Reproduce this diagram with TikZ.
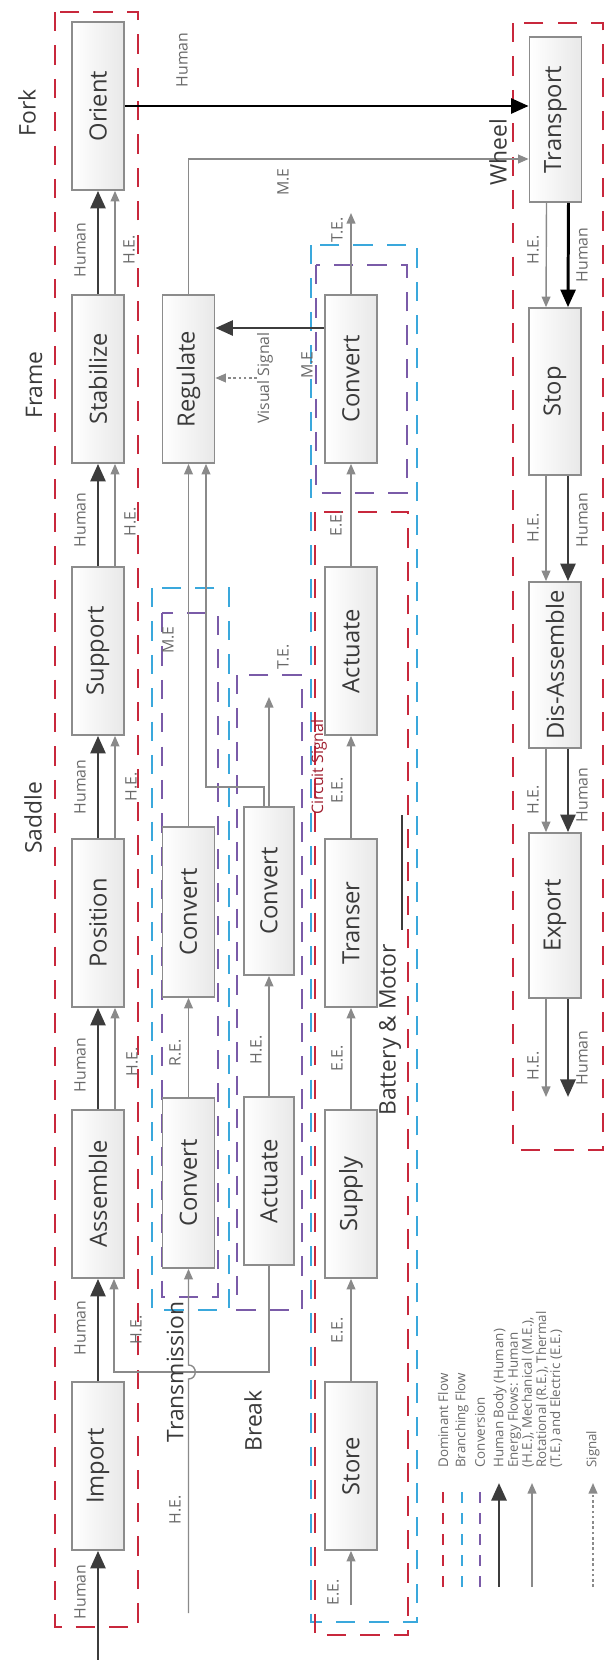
\documentclass[tikz,border=0pt]{standalone}
\usepackage{fontspec}
\usepackage{graphicx}
\usepackage{tikz}
\usetikzlibrary{arrows.meta,calc}
\setmainfont{Open Sans}
\definecolor{zonered}{HTML}{C8283C}
\definecolor{zoneblue}{HTML}{3AA8DC}
\definecolor{zonepurple}{HTML}{7A5BA8}
\definecolor{flowdark}{HTML}{3C3C3C}
\definecolor{flowgray}{HTML}{8A8A8A}
\definecolor{boxline}{HTML}{8C8C8C}
\definecolor{textdark}{HTML}{3A3A3A}
\definecolor{textgray}{HTML}{6A6A6A}
\newcommand{\up}[1]{\rotatebox{90}{#1}}
\tikzset{
  fnbox/.style={draw=boxline,line width=1pt,left color=white,right color=black!9,
    minimum width=1.04cm,minimum height=3.36cm,inner sep=0pt,text=textdark,
    font=\fontsize{13.5}{16}\selectfont},
  flowlbl/.style={rotate=90,inner sep=0pt,text=textgray,font=\fontsize{9}{10}\selectfont},
  grouplbl/.style={rotate=90,inner sep=0pt,text=textdark,font=\fontsize{13}{15}\selectfont},
  legendlbl/.style={rotate=90,anchor=west,inner sep=0pt,align=left,text=textgray,
    font=\fontsize{7.6}{8}\selectfont},
  humanflow/.style={draw=flowdark,line width=1.7pt,-{Triangle[length=10pt,width=8.5pt]}},
  energyflow/.style={draw=flowgray,line width=0.8pt,-{Triangle[length=6pt,width=5pt]}},
  signalflow/.style={draw=flowgray,line width=0.8pt,dash pattern=on 1.5pt off 1.5pt,
    -{Triangle[length=6pt,width=5pt]}},
  domzone/.style={draw=zonered,line width=1.5pt,dash pattern=on 11pt off 8pt},
  branchzone/.style={draw=zoneblue,line width=1.5pt,dash pattern=on 11pt off 8pt},
  convzone/.style={draw=zonepurple,line width=1.5pt,dash pattern=on 11pt off 8pt}
}

\begin{document}
\begin{tikzpicture}[x=0.02cm,y=-0.02cm]
  \useasboundingbox (0,0) rectangle (607,1660);
  % dashed zones
  \draw[domzone] (55,12) rectangle (138,1627);
  \draw[branchzone] (152,588) rectangle (229,1310);
  \draw[convzone] (162,613) rectangle (218,1297);
  \draw[convzone] (237,675) rectangle (302,1310);
  \draw[branchzone] (311,245) rectangle (417,1622);
  \draw[domzone] (315,512) rectangle (408,1635);
  \draw[convzone] (316,265) rectangle (407,493);
  \draw[domzone] (513,23) rectangle (603,1150);
  \draw[flowdark,line width=1pt] (402,815) -- (402,930);

  % function boxes
  \node[fnbox] (Orient) at (98,106) {\up{Orient}};
  \node[fnbox] (Stabilize) at (98,379) {\up{Stabilize}};
  \node[fnbox] (Support) at (98,651) {\up{Support}};
  \node[fnbox] (Position) at (98,923) {\up{Position}};
  \node[fnbox] (Assemble) at (98,1194) {\up{Assemble}};
  \node[fnbox] (Import) at (98,1466) {\up{Import}};
  \node[fnbox] (Regulate) at (188.5,379) {\up{Regulate}};
  \node[fnbox,minimum height=3.4cm] (TConvOut) at (188.5,912) {\up{Convert}};
  \node[fnbox,minimum height=3.4cm] (TConvIn) at (188.5,1183) {\up{Convert}};
  \node[fnbox,minimum width=1cm] (BConv) at (269,891) {\up{Convert}};
  \node[fnbox,minimum width=1cm] (BAct) at (269,1181) {\up{Actuate}};
  \node[fnbox] (MConv) at (351,379) {\up{Convert}};
  \node[fnbox] (MAct) at (351,651) {\up{Actuate}};
  \node[fnbox] (Transer) at (351,923) {\up{Transer}};
  \node[fnbox] (Supply) at (351,1194) {\up{Supply}};
  \node[fnbox] (Store) at (351,1466) {\up{Store}};
  \node[fnbox,minimum height=3.3cm] (Transport) at (555.5,119.5) {\up{Transport}};
  \node[fnbox,minimum height=3.34cm] (Stop) at (555,391.5) {\up{Stop}};
  \node[fnbox,minimum height=3.32cm] (DisAssemble) at (555,665) {\up{Dis-Assemble}};
  \node[fnbox,minimum height=3.3cm] (Export) at (555,915.5) {\up{Export}};

  % helper points
  \coordinate (humanIn) at (98,1660);
  \coordinate (heIn) at (188.5,1613);
  \coordinate (hopLow) at (188.5,1379);
  \coordinate (hopHigh) at (188.5,1365);
  \coordinate (heBus) at (0,1372);
  \coordinate (meBend) at (206,787);
  \coordinate (teBreak) at (269,697);
  \coordinate (eeIn) at (351,1605);
  \coordinate (teMotor) at (351,213);
  \coordinate (meMotor) at (0,328);
  \coordinate (visSig) at (257,378);
  \coordinate (meWheel) at (0,159);
  \coordinate (wheelOut) at (0,1097);

  % saddle, frame, fork
  \draw[humanflow] (humanIn) -- (Import.south);
  \draw[humanflow] (Import.north) -- (Assemble.south);
  \draw[humanflow] (Assemble.north) -- (Position.south);
  \draw[humanflow] (Position.north) -- (Support.south);
  \draw[humanflow] (Support.north) -- (Stabilize.south);
  \draw[humanflow] (Stabilize.north) -- (Orient.south);
  \draw[energyflow] ([xshift=.34cm]Assemble.north) -- ([xshift=.34cm]Position.south);
  \draw[energyflow] ([xshift=.34cm]Position.north) -- ([xshift=.34cm]Support.south);
  \draw[energyflow] ([xshift=.34cm]Support.north) -- ([xshift=.34cm]Stabilize.south);
  \draw[energyflow] ([xshift=.34cm]Stabilize.north) -- ([xshift=.34cm]Orient.south);
  \draw[humanflow,draw=black] (Orient.east) -- (Orient.east -| Transport.west);

  % transmission and break
  \draw[energyflow] (BAct.south) -- (BAct.south |- heBus) -| ([xshift=.32cm]Assemble.south);
  \draw[energyflow] (heIn) -- (hopLow)
    .. controls ($(hopLow)+(9,0)$) and ($(hopHigh)+(9,0)$) .. (hopHigh) -- (TConvIn.south);
  \draw[energyflow] (TConvIn.north) -- (TConvOut.south);
  \draw[energyflow] (TConvOut.north) -- (TConvOut.north |- Regulate.south);
  \draw[energyflow] ([xshift=-.1cm]BConv.north) |- (meBend) -- (meBend |- Regulate.south);
  \draw[energyflow] (BAct.north) -- (BConv.south);
  \draw[energyflow] (BConv.north) -- (teBreak);
  \draw[energyflow] (Regulate.north) |- (Transport.west |- meWheel);

  % battery and motor
  \draw[energyflow] (eeIn) -- (Store.south);
  \draw[energyflow] (Store.north) -- (Supply.south);
  \draw[energyflow] (Supply.north) -- (Transer.south);
  \draw[energyflow] (Transer.north) -- (MAct.south);
  \draw[energyflow] (MAct.north) -- (MConv.south);
  \draw[energyflow] (MConv.north) -- (teMotor);
  \draw[humanflow] (MConv.west |- meMotor) -- (Regulate.east |- meMotor);
  \draw[signalflow] (visSig) -- (Regulate.east |- visSig);

  % wheel
  \draw[energyflow] ([xshift=-.18cm]Transport.south) -- ([xshift=-.18cm]Stop.north);
  \draw[energyflow] ([xshift=-.18cm]Stop.south) -- ([xshift=-.18cm]DisAssemble.north);
  \draw[energyflow] ([xshift=-.18cm]DisAssemble.south) -- ([xshift=-.18cm]Export.north);
  \draw[energyflow] ([xshift=-.18cm]Export.south) -- ([xshift=-.18cm]Export.south |- wheelOut);
  \draw[humanflow,draw=black] ([xshift=.26cm]Transport.south) -- ([xshift=.26cm]Stop.north);
  \draw[humanflow] ([xshift=.26cm]Stop.south) -- ([xshift=.26cm]DisAssemble.north);
  \draw[humanflow] ([xshift=.26cm]DisAssemble.south) -- ([xshift=.26cm]Export.north);
  \draw[humanflow] ([xshift=.26cm]Export.south) -- ([xshift=.26cm]Export.south |- wheelOut);

  % flow labels
  \node[flowlbl] at (80,250) {Human};  \node[flowlbl] at (129,250) {H.E.};
  \node[flowlbl] at (80,520) {Human};  \node[flowlbl] at (130,522) {H.E.};
  \node[flowlbl] at (80,787) {Human};  \node[flowlbl] at (131,787) {H.E.};
  \node[flowlbl] at (80,1065) {Human}; \node[flowlbl] at (132,1062) {H.E.};
  \node[flowlbl] at (80,1328) {Human}; \node[flowlbl] at (136,1330) {H.E.};
  \node[flowlbl] at (80,1592) {Human};
  \node[flowlbl] at (182,60) {Human};
  \node[flowlbl] at (283,182) {M.E};
  \node[flowlbl] at (168,640) {M.E};
  \node[flowlbl] at (175,1053) {R.E.};
  \node[flowlbl] at (175,1510) {H.E.};
  \node[flowlbl] at (256,1050) {H.E.};
  \node[flowlbl] at (283,657) {T.E.};
  \node[flowlbl] at (265,378) {Visual Signal};
  \node[flowlbl] at (307,365) {M.E};
  \node[flowlbl] at (337,230) {T.E.};
  \node[flowlbl] at (336,523) {E.E.};
  \node[flowlbl] at (337,790) {E.E.};
  \node[flowlbl,text=zonered!80!black] at (319,767) {Circuit Signal};
  \node[flowlbl] at (337,1058) {E.E.};
  \node[flowlbl] at (337,1330) {E.E.};
  \node[flowlbl] at (333,1592) {E.E.};
  \node[flowlbl] at (533,250) {H.E.};  \node[flowlbl] at (582,255) {Human};
  \node[flowlbl] at (533,528) {H.E.};  \node[flowlbl] at (582,520) {Human};
  \node[flowlbl] at (533,800) {H.E.};  \node[flowlbl] at (582,795) {Human};
  \node[flowlbl] at (533,1066) {H.E.}; \node[flowlbl] at (582,1058) {Human};

  % component names
  \node[grouplbl] at (27,113) {Fork};
  \node[grouplbl] at (34,385) {Frame};
  \node[grouplbl] at (33,818) {Saddle};
  \node[grouplbl] at (175,1372) {Transmission};
  \node[grouplbl] at (253,1421) {Break};
  \node[grouplbl] at (390,1030) {Battery \& Motor};
  \node[grouplbl] at (498,152) {Wheel};

  % legend
  \draw[domzone,line width=1.2pt,dash pattern=on 6pt off 6pt] (443,1587) -- (443,1485);
  \draw[branchzone,line width=1.2pt,dash pattern=on 6pt off 6pt] (462,1587) -- (462,1485);
  \draw[convzone,line width=1.2pt,dash pattern=on 6pt off 6pt] (480,1587) -- (480,1485);
  \draw[humanflow] (499,1587) -- (499,1483);
  \draw[energyflow] (532,1587) -- (532,1483);
  \draw[signalflow] (593,1587) -- (593,1483);
  \node[legendlbl] at (443,1468) {Dominant Flow};
  \node[legendlbl] at (462,1468) {Branching Flow};
  \node[legendlbl] at (480,1468) {Conversion};
  \node[legendlbl] at (500,1468) {Human Body (Human)};
  \node[legendlbl] at (535,1468) {Energy Flows: Human\\(H.E.), Mechanical (M.E.),\\Rotational (R.E.), Thermal\\(T.E.) and Electric (E.E.)};
  \node[legendlbl] at (593,1468) {Signal};
\end{tikzpicture}
\end{document}
